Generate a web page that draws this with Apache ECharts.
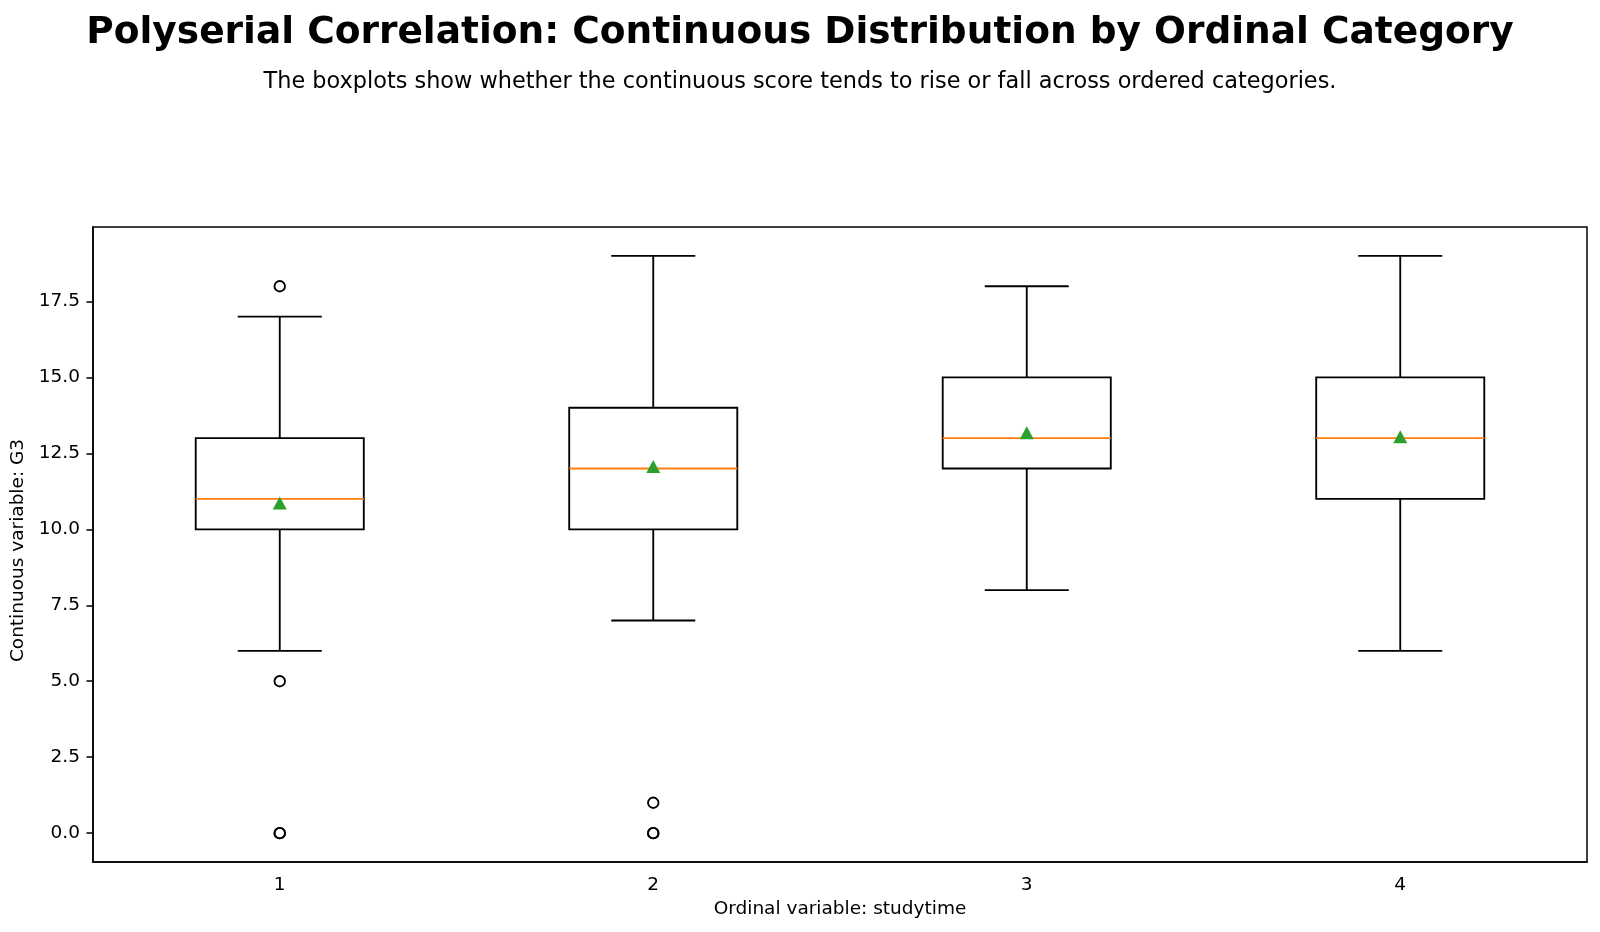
<!DOCTYPE html>
<html>
<head>
<meta charset="utf-8">
<script src="https://cdn.jsdelivr.net/npm/echarts@6/dist/echarts.min.js"></script>
<style>
  html, body { margin: 0; padding: 0; background: #fff; }
  #chart { width: 1600px; height: 932px; }
</style>
</head>
<body>
<div id="chart"></div>
<script>
var FONT = 'DejaVu Sans';

// ordinal categories (studytime)
var categories = ['1', '2', '3', '4'];

// five-number summaries per category: [whisker low, Q1, median, Q3, whisker high]
var whiskerLow = [6, 7, 8, 6];
var q1Values = [10, 10, 12, 11];
var medianValues = [11, 12, 13, 13];
var q3Values = [13, 14, 15, 15];
var whiskerHigh = [17, 19, 18, 19];

// means (green triangles)
var meanValues = [10.87, 12.07, 13.18, 13.05];

// outliers: [category index, value]
var outliers = [[0, 18], [0, 5], [0, 0], [0, 0], [1, 1], [1, 0], [1, 0]];

var yTicks = [0, 2.5, 5, 7.5, 10, 12.5, 15, 17.5];

var boxData = [];
for (var i = 0; i < categories.length; i++) {
    boxData.push([i, whiskerLow[i], q1Values[i], medianValues[i], q3Values[i], whiskerHigh[i]]);
}
var meanData = [];
for (var i = 0; i < categories.length; i++) {
    meanData.push([i, meanValues[i]]);
}

function renderBox(params, api) {
    var x = api.value(0);
    var lo = api.coord([x, api.value(1)]);
    var q1 = api.coord([x, api.value(2)]);
    var med = api.coord([x, api.value(3)]);
    var q3 = api.coord([x, api.value(4)]);
    var hi = api.coord([x, api.value(5)]);
    var half = api.size([1, 0])[0] * 0.45 / 2;
    var cap = half / 2;
    var cx = lo[0];
    var black = { stroke: '#000', lineWidth: 1.85, fill: null };
    return {
        type: 'group',
        children: [
            { type: 'line', shape: { x1: cx, y1: q1[1], x2: cx, y2: lo[1] }, style: black },
            { type: 'line', shape: { x1: cx, y1: q3[1], x2: cx, y2: hi[1] }, style: black },
            { type: 'line', shape: { x1: cx - cap, y1: lo[1], x2: cx + cap, y2: lo[1] }, style: black },
            { type: 'line', shape: { x1: cx - cap, y1: hi[1], x2: cx + cap, y2: hi[1] }, style: black },
            { type: 'rect', shape: { x: cx - half, y: q3[1], width: half * 2, height: q1[1] - q3[1] }, style: black },
            { type: 'line', shape: { x1: cx - half, y1: med[1], x2: cx + half, y2: med[1] },
              style: { stroke: '#ff7f0e', lineWidth: 1.85 } }
        ]
    };
}

var chart = echarts.init(document.getElementById('chart'));

var option = {
    backgroundColor: '#fff',
    animation: false,
    textStyle: { fontFamily: FONT },
    title: [
        {
            text: 'Polyserial Correlation: Continuous Distribution by Ordinal Category',
            left: 'center',
            top: 9,
            textStyle: { fontFamily: FONT, fontSize: 37.5, fontWeight: 'bold', color: '#000' }
        },
        {
            text: 'The boxplots show whether the continuous score tends to rise or fall across ordered categories.',
            left: 'center',
            top: 66,
            textStyle: { fontFamily: FONT, fontSize: 22.4, fontWeight: 'normal', color: '#000' }
        }
    ],
    grid: {
        left: 93, right: 13, top: 227, bottom: 70,
        show: true, borderColor: '#000', borderWidth: 1.5, backgroundColor: 'transparent'
    },
    xAxis: {
        type: 'category',
        data: categories,
        boundaryGap: true,
        name: 'Ordinal variable: studytime',
        nameLocation: 'middle',
        nameGap: 36,
        nameTextStyle: { fontFamily: FONT, fontSize: 18.5, color: '#000' },
        axisLine: { onZero: false, lineStyle: { color: '#000', width: 1.5 } },
        axisTick: { alignWithLabel: true, length: 6.5, lineStyle: { color: '#000', width: 1.5 } },
        axisLabel: { fontFamily: FONT, fontSize: 18.5, color: '#000', margin: 14 },
        splitLine: { show: false }
    },
    yAxis: {
        type: 'value',
        min: -0.95,
        max: 19.95,
        name: 'Continuous variable: G3',
        nameLocation: 'middle',
        nameGap: 60,
        nameTextStyle: { fontFamily: FONT, fontSize: 18.5, color: '#000', padding: [0, 12, 0, 0] },
        axisLine: { show: true, onZero: false, lineStyle: { color: '#000', width: 1.5 } },
        axisTick: { show: true, length: 6.5, customValues: yTicks, lineStyle: { color: '#000', width: 1.5 } },
        axisLabel: {
            fontFamily: FONT, fontSize: 18.5, color: '#000', margin: 13,
            customValues: yTicks,
            formatter: function (v) { return v.toFixed(1); }
        },
        splitLine: { show: false }
    },
    series: [
        {
            type: 'custom',
            renderItem: renderBox,
            data: boxData,
            encode: { x: 0, y: [1, 2, 3, 4, 5] },
            z: 2
        },
        {
            type: 'scatter',
            data: outliers,
            symbol: 'circle',
            symbolSize: 10.5,
            itemStyle: { color: 'rgba(255,255,255,0)', borderColor: '#000', borderWidth: 1.85, opacity: 1 },
            z: 3
        },
        {
            type: 'scatter',
            data: meanData,
            symbol: 'triangle',
            symbolSize: [14, 13],
            itemStyle: { color: '#2ca02c', opacity: 1 },
            z: 4
        }
    ]
};

chart.setOption(option);
</script>
</body>
</html>
